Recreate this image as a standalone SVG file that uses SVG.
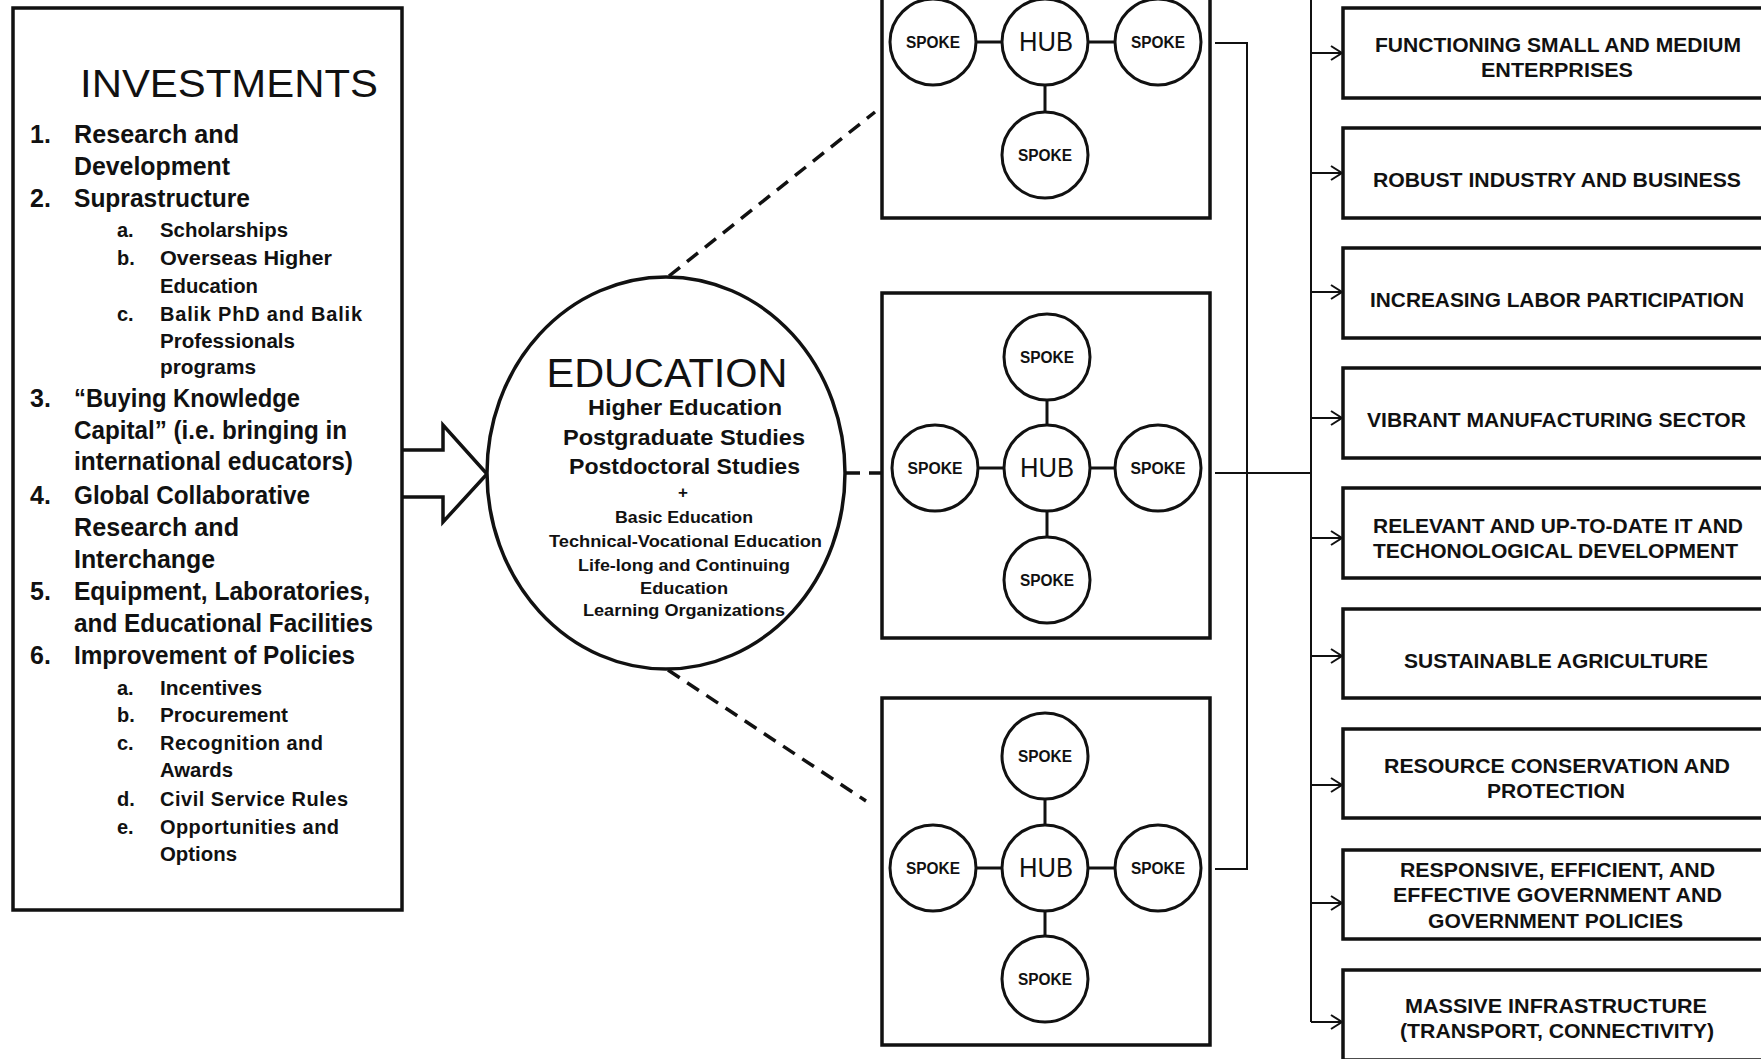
<svg xmlns="http://www.w3.org/2000/svg" width="1761" height="1059" viewBox="0 0 1761 1059">
<defs>
<style>
.box{fill:#fff;stroke:#111;stroke-width:3.5}
.circ{fill:#fff;stroke:#111;stroke-width:3}
.spk{stroke:#111;stroke-width:3;fill:none}
.ln{stroke:#111;stroke-width:2;fill:none}
.dash{stroke:#111;stroke-width:3.5;fill:none;stroke-dasharray:14 9}
text{font-family:"Liberation Sans",Arial,sans-serif;fill:#111}
.t1{font-size:25px;font-weight:bold}
.t2{font-size:20px;font-weight:bold}
.title{font-size:38px}
.edu{font-size:40px}
.e1{font-size:22px;font-weight:bold}
.e2{font-size:17px;font-weight:bold}
.hub{font-size:27px}
.spoke{font-size:16px;font-weight:bold}
.out{font-size:20px;font-weight:bold;text-anchor:middle}
.mid{text-anchor:middle}
</style>
<marker id="ah" markerUnits="userSpaceOnUse" markerWidth="14" markerHeight="18" refX="12" refY="8" orient="auto">
<path d="M1,1 L12,8 L1,15" fill="none" stroke="#111" stroke-width="2"/>
</marker>
</defs>

<g id="connectors">
<path d="M402,450 H443 V425 L487,474 L443,522 V497 H402" fill="#fff" stroke="#111" stroke-width="3.5"/>
<line class="dash" x1="669" y1="276" x2="875" y2="112"/>
<line class="dash" x1="668" y1="670" x2="866" y2="801"/>
<line class="dash" x1="846" y1="473" x2="882" y2="473"/>
<path class="ln" d="M1215,43 H1247 V869 H1215"/>
<line class="ln" x1="1215" y1="473" x2="1311" y2="473"/>
<path class="ln" d="M1311,0 V1022" stroke-width="2.5"/>
<line class="ln" x1="1311" y1="53" x2="1342" y2="53" marker-end="url(#ah)"/>
<line class="ln" x1="1311" y1="173" x2="1342" y2="173" marker-end="url(#ah)"/>
<line class="ln" x1="1311" y1="292" x2="1342" y2="292" marker-end="url(#ah)"/>
<line class="ln" x1="1311" y1="418" x2="1342" y2="418" marker-end="url(#ah)"/>
<line class="ln" x1="1311" y1="538" x2="1342" y2="538" marker-end="url(#ah)"/>
<line class="ln" x1="1311" y1="656" x2="1342" y2="656" marker-end="url(#ah)"/>
<line class="ln" x1="1311" y1="785" x2="1342" y2="785" marker-end="url(#ah)"/>
<line class="ln" x1="1311" y1="903" x2="1342" y2="903" marker-end="url(#ah)"/>
<line class="ln" x1="1311" y1="1022" x2="1342" y2="1022" marker-end="url(#ah)"/>
</g>

<g id="investments">
<rect class="box" x="13" y="8" width="389" height="902"/>
<text class="title" x="80" y="97" textLength="298" lengthAdjust="spacingAndGlyphs">INVESTMENTS</text>
<text class="t1" x="30" y="143">1.</text>
<text class="t1" x="74" y="143" textLength="165" lengthAdjust="spacingAndGlyphs">Research and</text>
<text class="t1" x="74" y="175" textLength="156" lengthAdjust="spacingAndGlyphs">Development</text>
<text class="t1" x="30" y="207">2.</text>
<text class="t1" x="74" y="207" textLength="176" lengthAdjust="spacingAndGlyphs">Suprastructure</text>
<text class="t2" x="117" y="237">a.</text>
<text class="t2" x="160" y="237" textLength="128" lengthAdjust="spacingAndGlyphs">Scholarships</text>
<text class="t2" x="117" y="265">b.</text>
<text class="t2" x="160" y="265" textLength="172" lengthAdjust="spacingAndGlyphs">Overseas Higher</text>
<text class="t2" x="160" y="293" textLength="98" lengthAdjust="spacingAndGlyphs">Education</text>
<text class="t2" x="117" y="321">c.</text>
<text class="t2" x="160" y="321" textLength="202" lengthAdjust="spacing">Balik PhD and Balik</text>
<text class="t2" x="160" y="348" textLength="135" lengthAdjust="spacingAndGlyphs">Professionals</text>
<text class="t2" x="160" y="374" textLength="96" lengthAdjust="spacingAndGlyphs">programs</text>
<text class="t1" x="30" y="407">3.</text>
<text class="t1" x="74" y="407" textLength="226" lengthAdjust="spacingAndGlyphs">“Buying Knowledge</text>
<text class="t1" x="74" y="439" textLength="273" lengthAdjust="spacingAndGlyphs">Capital” (i.e. bringing in</text>
<text class="t1" x="74" y="470" textLength="279" lengthAdjust="spacingAndGlyphs">international educators)</text>
<text class="t1" x="30" y="504">4.</text>
<text class="t1" x="74" y="504" textLength="236" lengthAdjust="spacingAndGlyphs">Global Collaborative</text>
<text class="t1" x="74" y="536" textLength="165" lengthAdjust="spacingAndGlyphs">Research and</text>
<text class="t1" x="74" y="568" textLength="141" lengthAdjust="spacingAndGlyphs">Interchange</text>
<text class="t1" x="30" y="600">5.</text>
<text class="t1" x="74" y="600" textLength="296" lengthAdjust="spacingAndGlyphs">Equipment, Laboratories,</text>
<text class="t1" x="74" y="632" textLength="299" lengthAdjust="spacingAndGlyphs">and Educational Facilities</text>
<text class="t1" x="30" y="664">6.</text>
<text class="t1" x="74" y="664" textLength="281" lengthAdjust="spacingAndGlyphs">Improvement of Policies</text>
<text class="t2" x="117" y="695">a.</text>
<text class="t2" x="160" y="695" textLength="102" lengthAdjust="spacingAndGlyphs">Incentives</text>
<text class="t2" x="117" y="722">b.</text>
<text class="t2" x="160" y="722" textLength="128" lengthAdjust="spacingAndGlyphs">Procurement</text>
<text class="t2" x="117" y="750">c.</text>
<text class="t2" x="160" y="750" textLength="163" lengthAdjust="spacing">Recognition and</text>
<text class="t2" x="160" y="777" textLength="73" lengthAdjust="spacingAndGlyphs">Awards</text>
<text class="t2" x="117" y="806">d.</text>
<text class="t2" x="160" y="806" textLength="188" lengthAdjust="spacing">Civil Service Rules</text>
<text class="t2" x="117" y="834">e.</text>
<text class="t2" x="160" y="834" textLength="179" lengthAdjust="spacing">Opportunities and</text>
<text class="t2" x="160" y="861" textLength="77" lengthAdjust="spacingAndGlyphs">Options</text>
</g>

<g id="education">
<ellipse cx="666" cy="473" rx="179" ry="196" fill="#fff" stroke="#111" stroke-width="3.5"/>
<text class="edu mid" x="667" y="387" textLength="241" lengthAdjust="spacingAndGlyphs">EDUCATION</text>
<text class="e1 mid" x="685" y="415" textLength="194" lengthAdjust="spacingAndGlyphs">Higher Education</text>
<text class="e1 mid" x="684" y="445" textLength="242" lengthAdjust="spacingAndGlyphs">Postgraduate Studies</text>
<text class="e1 mid" x="684.5" y="474" textLength="231" lengthAdjust="spacingAndGlyphs">Postdoctoral Studies</text>
<text class="e2 mid" x="683" y="498">+</text>
<text class="e2 mid" x="684" y="523" textLength="138" lengthAdjust="spacingAndGlyphs">Basic Education</text>
<text class="e2 mid" x="685.5" y="547" textLength="273" lengthAdjust="spacingAndGlyphs">Technical-Vocational Education</text>
<text class="e2 mid" x="684" y="571" textLength="212" lengthAdjust="spacingAndGlyphs">Life-long and Continuing</text>
<text class="e2 mid" x="684" y="594" textLength="88" lengthAdjust="spacingAndGlyphs">Education</text>
<text class="e2 mid" x="684" y="616" textLength="202" lengthAdjust="spacingAndGlyphs">Learning Organizations</text>
</g>

<g id="cluster-top">
<rect class="box" x="882" y="-6" width="328" height="224"/>
<path class="spk" d="M933,42 H1158 M1045,42 V155"/>
<ellipse class="circ" cx="933" cy="42" rx="43" ry="43"/>
<ellipse class="circ" cx="1045" cy="42" rx="43" ry="43"/>
<ellipse class="circ" cx="1158" cy="42" rx="43" ry="43"/>
<ellipse class="circ" cx="1045" cy="155" rx="43" ry="43"/>
<text class="spoke mid" x="933" y="48" textLength="54" lengthAdjust="spacingAndGlyphs">SPOKE</text>
<text class="hub mid" x="1046" y="51" textLength="54" lengthAdjust="spacingAndGlyphs">HUB</text>
<text class="spoke mid" x="1158" y="48" textLength="54" lengthAdjust="spacingAndGlyphs">SPOKE</text>
<text class="spoke mid" x="1045" y="161" textLength="54" lengthAdjust="spacingAndGlyphs">SPOKE</text>
</g>

<g id="cluster-middle">
<rect class="box" x="882" y="293" width="328" height="345"/>
<path class="spk" d="M935,468 H1158 M1047,357 V580"/>
<ellipse class="circ" cx="1047" cy="357" rx="43" ry="43"/>
<ellipse class="circ" cx="935" cy="468" rx="43" ry="43"/>
<ellipse class="circ" cx="1047" cy="468" rx="43" ry="43"/>
<ellipse class="circ" cx="1158" cy="468" rx="43" ry="43"/>
<ellipse class="circ" cx="1047" cy="580" rx="43" ry="43"/>
<text class="spoke mid" x="1047" y="363" textLength="54" lengthAdjust="spacingAndGlyphs">SPOKE</text>
<text class="spoke mid" x="935" y="474" textLength="55" lengthAdjust="spacingAndGlyphs">SPOKE</text>
<text class="hub mid" x="1047" y="477" textLength="54" lengthAdjust="spacingAndGlyphs">HUB</text>
<text class="spoke mid" x="1158" y="474" textLength="55" lengthAdjust="spacingAndGlyphs">SPOKE</text>
<text class="spoke mid" x="1047" y="586" textLength="54" lengthAdjust="spacingAndGlyphs">SPOKE</text>
</g>

<g id="cluster-bottom">
<rect class="box" x="882" y="698" width="328" height="347"/>
<path class="spk" d="M933,868 H1158 M1045,756 V979"/>
<ellipse class="circ" cx="1045" cy="756" rx="43" ry="43"/>
<ellipse class="circ" cx="933" cy="868" rx="43" ry="43"/>
<ellipse class="circ" cx="1045" cy="868" rx="43" ry="43"/>
<ellipse class="circ" cx="1158" cy="868" rx="43" ry="43"/>
<ellipse class="circ" cx="1045" cy="979" rx="43" ry="43"/>
<text class="spoke mid" x="1045" y="762" textLength="54" lengthAdjust="spacingAndGlyphs">SPOKE</text>
<text class="spoke mid" x="933" y="874" textLength="54" lengthAdjust="spacingAndGlyphs">SPOKE</text>
<text class="hub mid" x="1046" y="877" textLength="54" lengthAdjust="spacingAndGlyphs">HUB</text>
<text class="spoke mid" x="1158" y="874" textLength="54" lengthAdjust="spacingAndGlyphs">SPOKE</text>
<text class="spoke mid" x="1045" y="985" textLength="54" lengthAdjust="spacingAndGlyphs">SPOKE</text>
</g>

<g id="outcome-1">
<rect class="box" x="1343" y="8" width="430" height="90"/>
<text class="out" x="1558" y="52" textLength="366" lengthAdjust="spacingAndGlyphs">FUNCTIONING SMALL AND MEDIUM</text>
<text class="out" x="1557" y="77" textLength="152" lengthAdjust="spacingAndGlyphs">ENTERPRISES</text>
</g>
<g id="outcome-2">
<rect class="box" x="1343" y="128" width="430" height="90"/>
<text class="out" x="1557" y="187" textLength="368" lengthAdjust="spacingAndGlyphs">ROBUST INDUSTRY AND BUSINESS</text>
</g>
<g id="outcome-3">
<rect class="box" x="1343" y="248" width="430" height="90"/>
<text class="out" x="1557" y="307" textLength="374" lengthAdjust="spacingAndGlyphs">INCREASING LABOR PARTICIPATION</text>
</g>
<g id="outcome-4">
<rect class="box" x="1343" y="368" width="430" height="90"/>
<text class="out" x="1556.5" y="427" textLength="379" lengthAdjust="spacingAndGlyphs">VIBRANT MANUFACTURING SECTOR</text>
</g>
<g id="outcome-5">
<rect class="box" x="1343" y="488" width="430" height="90"/>
<text class="out" x="1558" y="533" textLength="370" lengthAdjust="spacingAndGlyphs">RELEVANT AND UP-TO-DATE IT AND</text>
<text class="out" x="1555.5" y="558" textLength="365" lengthAdjust="spacingAndGlyphs">TECHONOLOGICAL DEVELOPMENT</text>
</g>
<g id="outcome-6">
<rect class="box" x="1343" y="609" width="430" height="89"/>
<text class="out" x="1556" y="668" textLength="304" lengthAdjust="spacingAndGlyphs">SUSTAINABLE AGRICULTURE</text>
</g>
<g id="outcome-7">
<rect class="box" x="1343" y="729" width="430" height="89"/>
<text class="out" x="1557" y="773" textLength="346" lengthAdjust="spacingAndGlyphs">RESOURCE CONSERVATION AND</text>
<text class="out" x="1556" y="798" textLength="138" lengthAdjust="spacingAndGlyphs">PROTECTION</text>
</g>
<g id="outcome-8">
<rect class="box" x="1343" y="850" width="430" height="89"/>
<text class="out" x="1557.5" y="877" textLength="315" lengthAdjust="spacingAndGlyphs">RESPONSIVE, EFFICIENT, AND</text>
<text class="out" x="1557.5" y="902" textLength="329" lengthAdjust="spacingAndGlyphs">EFFECTIVE GOVERNMENT AND</text>
<text class="out" x="1555.5" y="928" textLength="255" lengthAdjust="spacingAndGlyphs">GOVERNMENT POLICIES</text>
</g>
<g id="outcome-9">
<rect class="box" x="1343" y="970" width="430" height="90"/>
<text class="out" x="1556" y="1013" textLength="302" lengthAdjust="spacingAndGlyphs">MASSIVE INFRASTRUCTURE</text>
<text class="out" x="1557" y="1038" textLength="314" lengthAdjust="spacingAndGlyphs">(TRANSPORT, CONNECTIVITY)</text>
</g>
</svg>
